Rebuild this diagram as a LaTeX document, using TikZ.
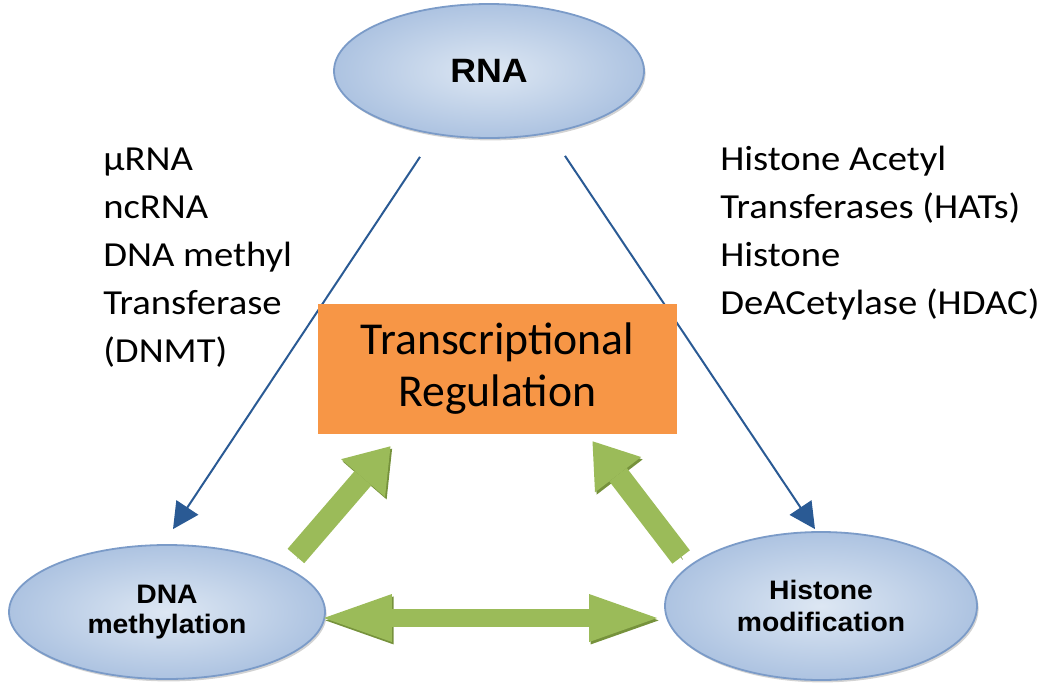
\documentclass[tikz,border=0pt]{standalone}
\usepackage{fontspec}
\setmainfont{Carlito}
\newfontfamily\sidefont[FakeStretch=1.1]{Carlito}
\newfontfamily\labfont[FakeStretch=1.06]{Liberation Sans}
\usetikzlibrary{calc,shapes.geometric,shadows,arrows.meta}
\definecolor{bubbleline}{HTML}{7B9BC8}
\definecolor{bubblein}{HTML}{DDE7F3}
\definecolor{bubbleout}{HTML}{ADC3E1}
\definecolor{regorange}{HTML}{F79646}
\definecolor{linkblue}{HTML}{2A5A94}
\definecolor{leafgreen}{HTML}{9BBB59}
\definecolor{leafdark}{HTML}{76923C}
\tikzset{bubble/.style = {ellipse, draw=bubbleline, line width=0.45mm, inner color=bubblein, outer color=bubbleout,
                          drop shadow={shadow xshift=0.4mm, shadow yshift=-0.6mm, opacity=0.35},
                          inner sep=0pt, align=center},
         regbox/.style = {rectangle, fill=regorange, inner sep=0pt, align=center,
                          font=\fontsize{32.5}{37}\selectfont},
         sidetext/.style = {inner sep=0pt, align=left, anchor=north west,
                            font=\sidefont\fontsize{25}{34.1}\selectfont},
         thinarrow/.style = {draw=linkblue, line width=0.5mm, -{Triangle[length=6.5mm,width=6.5mm]}},
         fatarrow/.style = {draw=leafgreen, line width=5.5mm,
                            preaction={draw=leafdark, transform canvas={shift={(0.4mm,-0.6mm)}}}}}

\begin{document}
\begin{tikzpicture}[x=0.25mm, y=-0.25mm]
\useasboundingbox (0,0) rectangle (1050,689);

\node [bubble, minimum width=77.5mm, minimum height=33.5mm,
       font=\labfont\bfseries\fontsize{24}{28}\selectfont] (rna) at (489,71) {RNA};
\node [bubble, minimum width=79mm, minimum height=33.5mm,
       font=\labfont\bfseries\fontsize{19}{21}\selectfont] (dna) at (167,612) {DNA\\methylation};
\node [bubble, minimum width=78mm, minimum height=37mm,
       font=\labfont\bfseries\fontsize{19}{23}\selectfont] (hist) at (821,606) {Histone\\modification};

\node [sidetext] (dnaenz) at (103,148) {µRNA\\ncRNA\\DNA methyl\\Transferase\\(DNMT)};
\node [sidetext] (histenz) at (720,146) {Histone Acetyl\\Transferases (HATs)\\Histone\\DeACetylase (HDAC)};

\coordinate (rnaL) at ($(rna.south)+(-69,18)$);
\coordinate (rnaR) at ($(rna.south)+(76,17)$);
\coordinate (dnaT) at ($(dna.north)+(6,-15)$);
\coordinate (histT) at ($(hist.north)+(-6,-2)$);
\draw [thinarrow] (rnaL) -- (dnaT);
\draw [thinarrow] (rnaR) -- (histT);

\node [regbox, minimum width=89.75mm, minimum height=32.5mm] (reg) at (497.5,369) {Transcriptional\\Regulation};

\coordinate (dnaUp) at ($(dna.east)+(-30,-56)$);
\coordinate (histUp) at ($(hist.west)+(17,-49)$);
\coordinate (regL) at ($(reg.south)+(-107,12)$);
\coordinate (regR) at ($(reg.south)+(95,7)$);
\coordinate (dnaSide) at ($(dna.east)+(-2,6)$);
\coordinate (histSide) at ($(hist.west)+(-7,12)$);
\draw [fatarrow, -{Triangle[length=10.5mm,width=14.5mm,line width=0pt]}] (dnaUp) -- (regL);
\draw [fatarrow, -{Triangle[length=10.5mm,width=14.5mm,line width=0pt]}] (histUp) -- (regR);
\draw [fatarrow, line width=4.5mm, {Triangle[length=17mm,width=12mm,line width=0pt]}-{Triangle[length=17mm,width=12mm,line width=0pt]}] (dnaSide) -- (histSide);
\end{tikzpicture}
\end{document}
